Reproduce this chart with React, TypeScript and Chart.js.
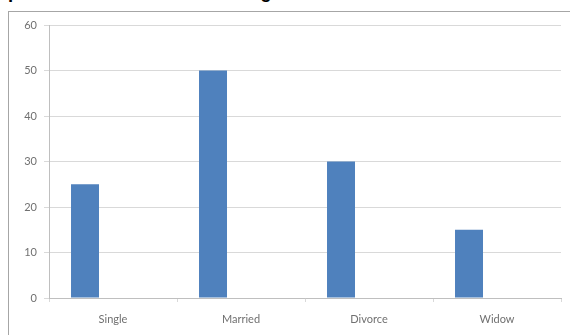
import React, { useEffect, useRef } from "react";
import { Chart, registerables } from "chart.js";

Chart.register(...registerables);

// Marital status counts
const categories: string[] = ["Single", "Married", "Divorce", "Widow"];
const series1: (number | null)[] = [25, 50, 30, 15];
const series2: (number | null)[] = [null, null, null, null];
const series3: (number | null)[] = [null, null, null, null];
const yMin = 0;
const yMax = 60;
const yStep = 10;

const captionText = "patients' marital status during";

const BAR_BLUE = "#4f81bd";
const GRID = "#d9d9d9";
const AXIS = "#bfbfbf";
const LABEL = "#707070";
const FONT = "Lato, 'Open Sans', sans-serif";

export default function App() {
  const canvasRef = useRef<HTMLCanvasElement | null>(null);

  useEffect(() => {
    const canvas = canvasRef.current;
    if (!canvas) return;
    const chart = new Chart(canvas, {
      type: "bar",
      data: {
        labels: categories,
        datasets: [
          { label: "Series1", data: series1, backgroundColor: BAR_BLUE, borderWidth: 0 },
          { label: "Series2", data: series2, backgroundColor: "#c0504d", borderWidth: 0 },
          { label: "Series3", data: series3, backgroundColor: "#9bbb59", borderWidth: 0 },
        ],
      },
      options: {
        animation: false,
        responsive: false,
        maintainAspectRatio: false,
        events: [],
        layout: { padding: { left: 0, top: 25, right: 9, bottom: 0 } },
        plugins: {
          legend: { display: false },
          tooltip: { enabled: false },
          title: { display: false },
        },
        datasets: {
          bar: { categoryPercentage: 0.656, barPercentage: 1 },
        },
        scales: {
          x: {
            offset: true,
            grid: {
              offset: true,
              drawOnChartArea: false,
              drawTicks: true,
              tickLength: 4,
              color: GRID,
            },
            border: { display: true, color: AXIS },
            ticks: {
              padding: 11,
              color: LABEL,
              font: { family: FONT, size: 11 },
              maxRotation: 0,
            },
            afterFit: (s: any) => {
              s.height = 37;
            },
          },
          y: {
            min: yMin,
            max: yMax,
            ticks: {
              stepSize: yStep,
              padding: 7,
              color: LABEL,
              font: { family: FONT, size: 11 },
            },
            grid: {
              color: GRID,
              drawTicks: true,
              tickLength: 5,
            },
            border: { display: true, color: AXIS },
            afterFit: (s: any) => {
              s.width = 49;
            },
          },
        },
      },
    });
    return () => chart.destroy();
  }, []);

  return (
    <div
      style={{
        position: "absolute",
        left: 0,
        top: 0,
        width: 570,
        height: 335,
        overflow: "hidden",
        background: "#ffffff",
      }}
    >
      <div
        style={{
          position: "absolute",
          left: 8,
          top: -18,
          fontFamily: "'Liberation Sans', Arial, sans-serif",
          fontWeight: "bold",
          fontSize: 18.5,
          lineHeight: "20px",
          color: "#000",
          whiteSpace: "nowrap",
        }}
      >
        {captionText}
      </div>
      <div
        style={{
          position: "absolute",
          left: 8,
          top: 11,
          width: 600,
          height: 400,
          border: "1px solid #a6a6a6",
          boxSizing: "border-box",
        }}
      />
      <canvas
        ref={canvasRef}
        width={570}
        height={335}
        style={{ position: "absolute", left: 0, top: 0, width: 570, height: 335 }}
      />
    </div>
  );
}
